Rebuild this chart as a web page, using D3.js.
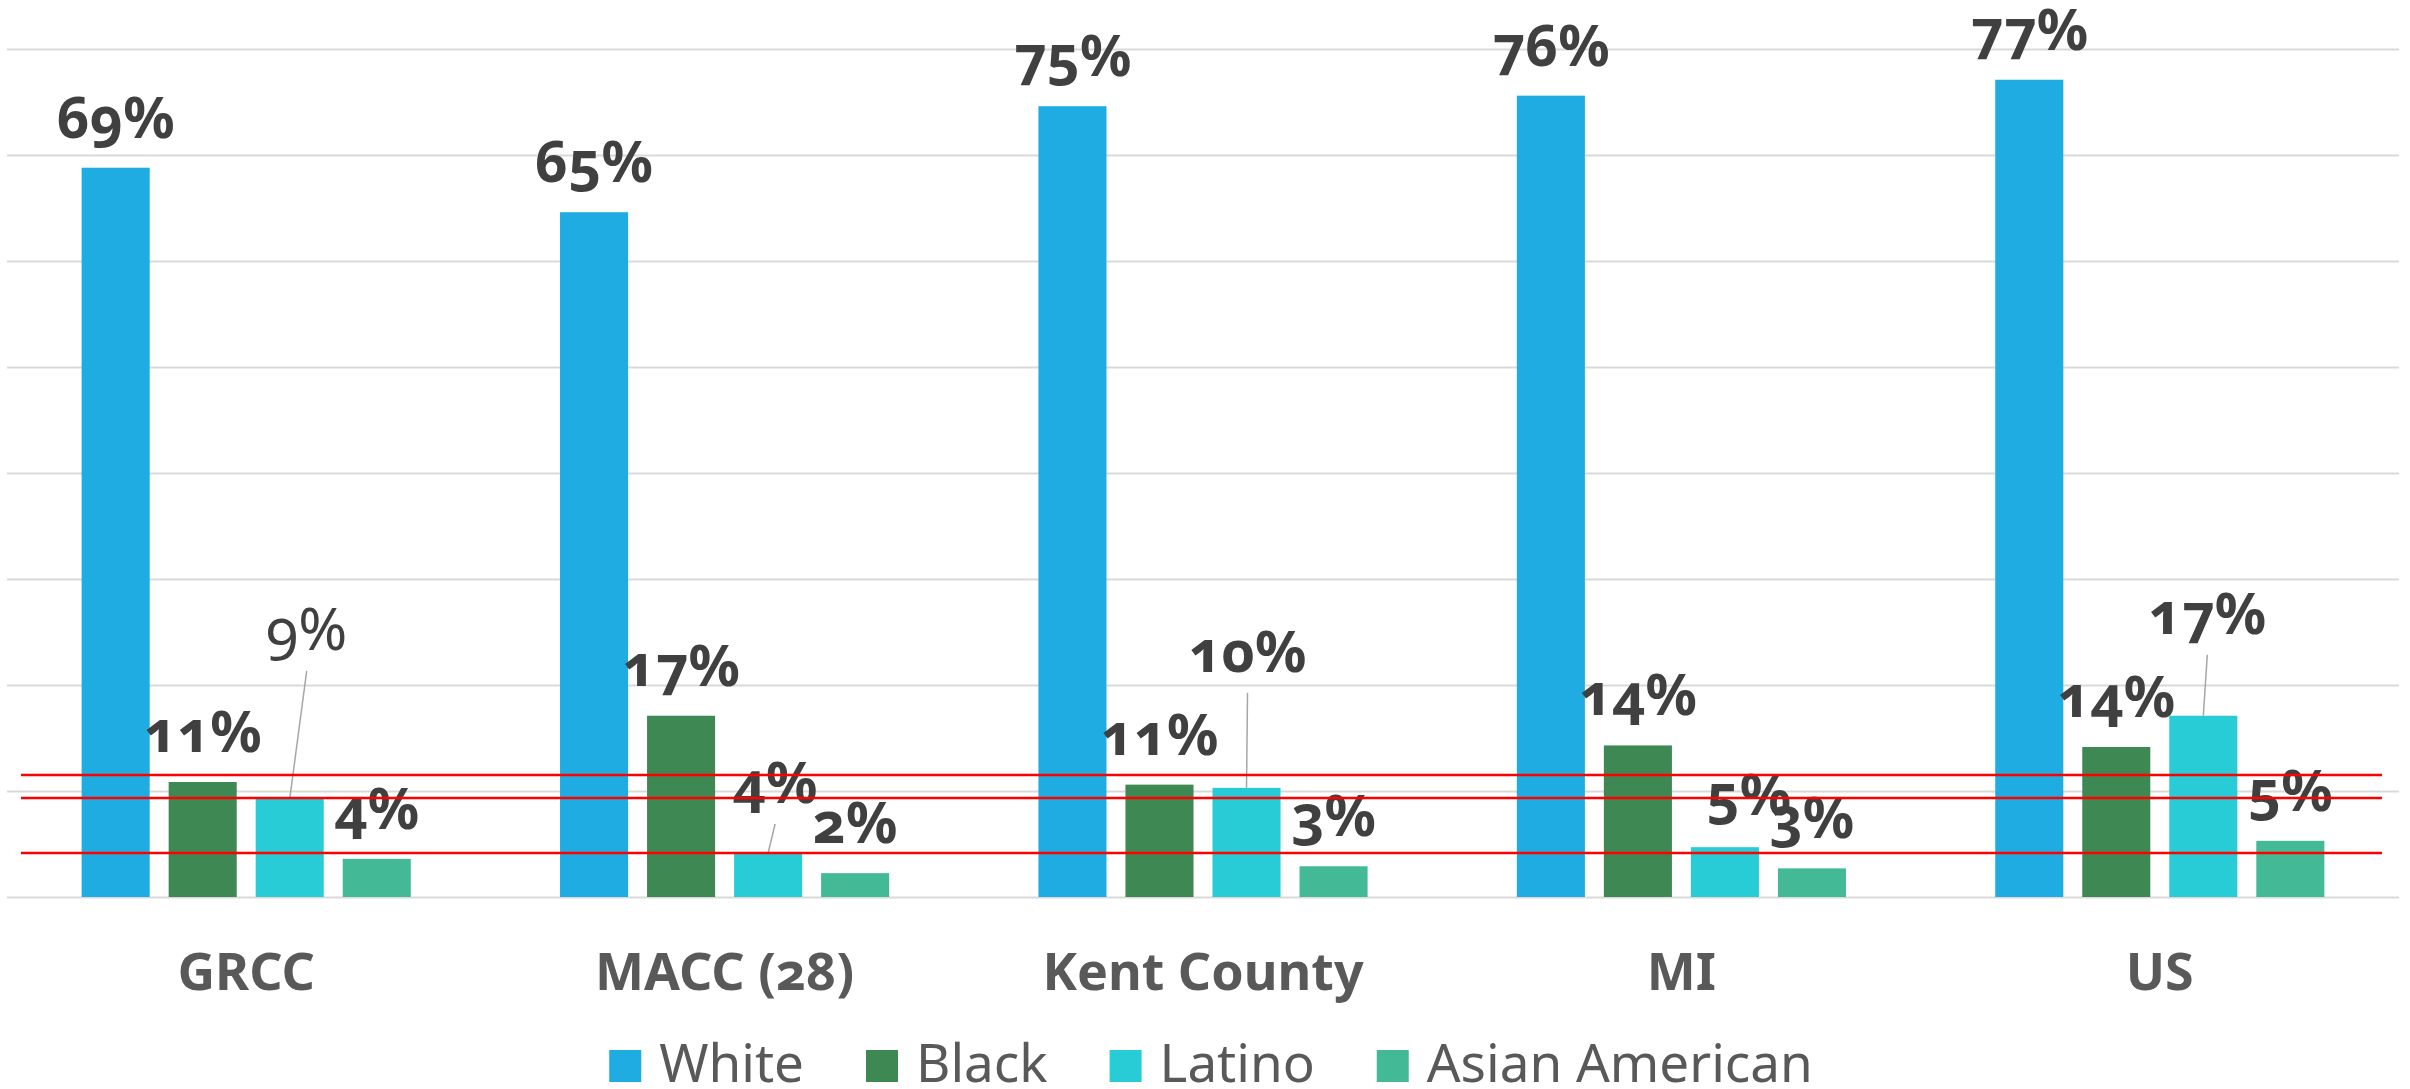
<!DOCTYPE html>
<html>
<head>
<meta charset="utf-8">
<script src="https://cdn.jsdelivr.net/npm/d3@7"></script>
<style>
  html, body { margin: 0; padding: 0; background: #fff; }
  svg { display: block; font-family: "Noto Sans", "Open Sans", sans-serif; font-variant-numeric: oldstyle-nums; }
</style>
</head>
<body>
<svg id="chart" width="2410" height="1089"></svg>
<script>
const categories = ["GRCC", "MACC (28)", "Kent County", "MI", "US"];
const seriesNames = ["White", "Black", "Latino", "Asian American"];
const white = [68.8, 64.6, 74.6, 75.6, 77.1];
const black = [10.85, 17.1, 10.6, 14.3, 14.15];
const latino = [9.25, 4.15, 10.3, 4.7, 17.1];
const asian = [3.6, 2.25, 2.9, 2.7, 5.3];
const yTicks = [0, 10, 20, 30, 40, 50, 60, 70, 80];
// the three red lines someone drew over the chart
const markerLines = [11.5, 9.35, 4.15];

const colors = ["#1facE2", "#3e8853", "#27ccd7", "#43b996"];

// hand-moved data labels (px from the default spot), some with leader lines
const labelMoves = {
    "GRCC|Latino": {dx: 17, dy: -119, leader: true, weight: 400},
    "MACC (28)|Latino": {dx: 7, dy: -20, leader: true},
    "Kent County|Latino": {dx: 1, dy: -86, leader: true},
    "MI|Latino": {dx: 24, dy: -2},
    "US|Latino": {dx: 4, dy: -52, leader: true}
};

const seriesValues = [white, black, latino, asian];

let svg = d3.select("#chart");

const plotLeft = 7, plotRight = 2399, plotTop = 49, plotBottom = 897;

let x0 = d3.scaleBand()
    .domain(categories)
    .range([plotLeft, plotRight]);
let x1 = d3.scaleBand()
    .domain(seriesNames)
    .range([x0.bandwidth() * 0.156, x0.bandwidth() * 0.844])
    .paddingInner(0.218);
let y = d3.scaleLinear()
    .domain([0, 80])
    .range([plotBottom, plotTop]);

// gridlines
let grid = svg.append("g")
    .attr("transform", `translate(${plotLeft},0)`)
    .call(d3.axisLeft(y).tickValues(yTicks).tickSize(-(plotRight - plotLeft)).tickFormat(""));
grid.select(".domain").remove();
grid.selectAll(".tick line")
    .attr("stroke", "#d9d9d9")
    .attr("stroke-width", 2);

// flatten into one row per bar
let rows = [];
categories.forEach((c, i) => {
    seriesNames.forEach((s, j) => {
        rows.push({cat: c, series: s, value: seriesValues[j][i], color: colors[j]});
    });
});

svg.append("g").selectAll("rect")
    .data(rows)
    .enter()
    .append("rect")
    .attr("x", d => x0(d.cat) + x1(d.series))
    .attr("y", d => y(d.value))
    .attr("width", x1.bandwidth())
    .attr("height", d => y(0) - y(d.value))
    .attr("fill", d => d.color);

// data labels
let labelPos = (d) => {
    let cx = x0(d.cat) + x1(d.series) + x1.bandwidth() / 2;
    let m = labelMoves[d.cat + "|" + d.series] || {dx: 0, dy: 0};
    return {x: cx + m.dx, y: y(d.value) - 30 + m.dy, barX: cx, move: m};
};

let leaders = rows.filter(d => labelMoves[d.cat + "|" + d.series] && labelMoves[d.cat + "|" + d.series].leader);
svg.append("g").selectAll("line")
    .data(leaders)
    .enter()
    .append("line")
    .attr("x1", d => labelPos(d).x)
    .attr("y1", d => labelPos(d).y + 21)
    .attr("x2", d => labelPos(d).barX)
    .attr("y2", d => y(d.value))
    .attr("stroke", "#a6a6a6")
    .attr("stroke-width", 1.5);

svg.append("g").selectAll("text")
    .data(rows)
    .enter()
    .append("text")
    .attr("x", d => labelPos(d).x)
    .attr("y", d => labelPos(d).y)
    .attr("text-anchor", "middle")
    .attr("font-size", d => labelPos(d).move.weight ? 59 : 57)
    .attr("font-weight", d => labelPos(d).move.weight || 700)
    .attr("fill", "#404040")
    .text(d => Math.round(d.value) + "%");

// category labels
svg.append("g").selectAll("text")
    .data(categories)
    .enter()
    .append("text")
    .attr("x", d => x0(d) + x0.bandwidth() / 2)
    .attr("y", 990)
    .attr("text-anchor", "middle")
    .attr("font-size", 52)
    .attr("font-weight", 700)
    .attr("fill", "#595959")
    .text(d => d);

// legend
let legend = svg.append("g");
let items = legend.selectAll("g")
    .data(seriesNames)
    .enter()
    .append("g");
items.append("rect")
    .attr("width", 32)
    .attr("height", 32)
    .attr("y", 1050)
    .attr("fill", (d, i) => colors[i]);
items.append("text")
    .attr("x", 50)
    .attr("y", 1082)
    .attr("font-size", 53)
    .attr("fill", "#595959")
    .text(d => d);
let widths = [];
items.each(function() {
    widths.push(50 + d3.select(this).select("text").node().getComputedTextLength());
});
let total = d3.sum(widths) + 62 * (widths.length - 1);
let lx = 1211 - total / 2;
items.attr("transform", (d, i) => {
    let t = `translate(${lx},0)`;
    lx += widths[i] + 62;
    return t;
});

// red marker lines on top
svg.append("g").selectAll("line")
    .data(markerLines)
    .enter()
    .append("line")
    .attr("x1", plotLeft + 14)
    .attr("x2", plotRight - 17)
    .attr("y1", d => y(d))
    .attr("y2", d => y(d))
    .attr("stroke", "#ff0000")
    .attr("stroke-width", 2.5);
</script>
</body>
</html>
